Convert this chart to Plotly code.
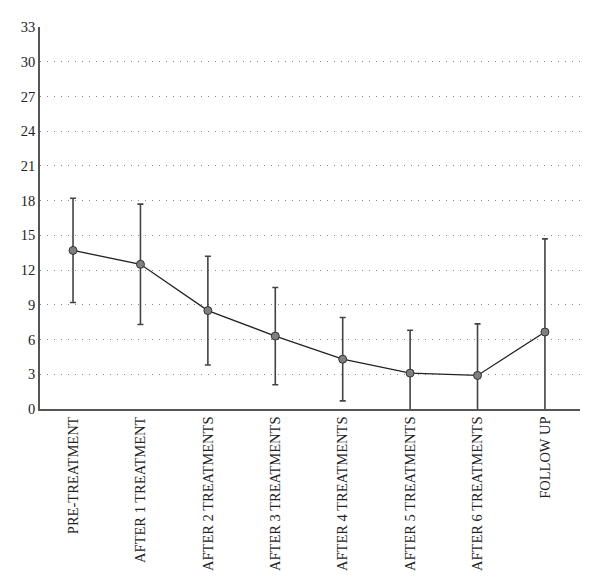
import plotly.graph_objects as go

categories = ["PRE-TREATMENT", "AFTER 1 TREATMENT", "AFTER 2 TREATMENTS", "AFTER 3 TREATMENTS",
              "AFTER 4 TREATMENTS", "AFTER 5 TREATMENTS", "AFTER 6 TREATMENTS", "FOLLOW UP"]
means = [13.7, 12.5, 8.5, 6.3, 4.3, 3.1, 2.9, 6.65]
sd = [4.5, 5.2, 4.7, 4.2, 3.6, 3.7, 4.45, 8.05]
y_ticks = [0, 3, 6, 9, 12, 15, 18, 21, 24, 27, 30, 33]

fig = go.Figure()
fig.add_trace(go.Scatter(
    x=list(range(len(categories))), y=means,
    mode="lines+markers",
    line=dict(color="#222222", width=1.3),
    marker=dict(size=8, color="#7f7f7f", line=dict(color="#333333", width=1)),
    error_y=dict(type="data", array=sd, visible=True, color="#444444", thickness=1.6, width=3),
    showlegend=False,
))

fig.update_layout(
    width=592, height=571,
    margin=dict(l=32, r=20, t=19, b=170),
    paper_bgcolor="white", plot_bgcolor="white",
    font=dict(family="Liberation Serif", size=14.5, color="#222222"),
    xaxis=dict(
        tickmode="array", tickvals=list(range(len(categories))), ticktext=categories,
        tickangle=-90, range=[-0.49, 7.52], showgrid=False, zeroline=False,
        showline=True, linecolor="#555555", linewidth=1.5, ticks="", ticklen=0,
        automargin=False,
    ),
    yaxis=dict(
        tickmode="array", tickvals=y_ticks, range=[0, 33],
        showgrid=True, gridcolor="#8a8a8a", griddash="1px,6px", gridwidth=1.3,
        zeroline=False, showline=True, linecolor="#555555", linewidth=1.5,
        ticks="", ticklen=0, automargin=False,
    ),
)
fig.write_html("out.html")
